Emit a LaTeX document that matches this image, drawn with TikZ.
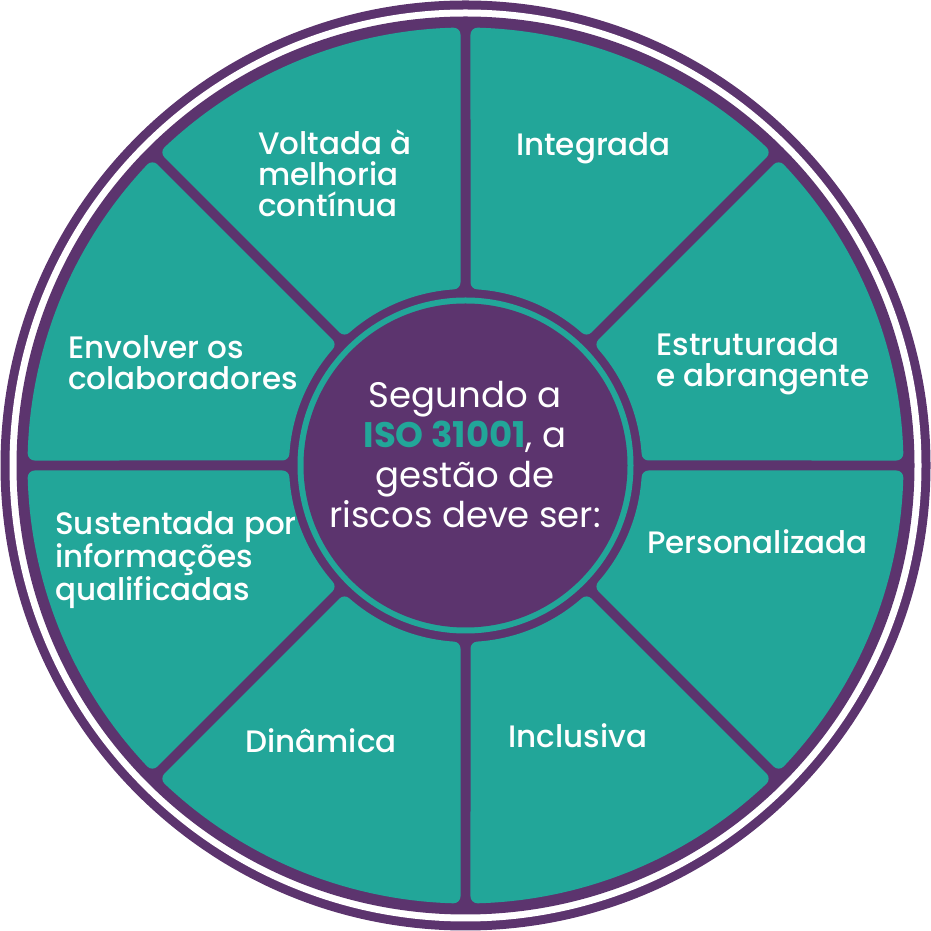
\documentclass[tikz,border=0pt]{standalone}
\usepackage{fontspec}
\setmainfont{Poppins}
\newfontfamily\medf{Poppins Medium}
\definecolor{tealc}{RGB}{34,166,153}
\definecolor{purp}{RGB}{92,52,110}

\begin{document}
\begin{tikzpicture}[x=1pt,y=1pt,
  sec/.style={fill=tealc,draw=tealc,line width=14pt,line join=round},
  lb/.style={text=white,align=left,inner sep=0pt,font=\medf\fontsize{31}{31}\selectfont}]
  \useasboundingbox (0,0) rectangle (931,931);
  \coordinate (o) at (465.5,465.5);
  % outer rings
  \fill[purp] (o) circle[radius=465pt];
  \fill[white] (o) circle[radius=456pt];
  \fill[purp] (o) circle[radius=449pt];
  % eight sectors
  \foreach \a in {0,45,...,315}{
    \pgfmathsetmacro\ia{\a+asin(12/183.5)}
    \pgfmathsetmacro\ib{\a+45-asin(12/183.5)}
    \pgfmathsetmacro\oa{\a+asin(12/431)}
    \pgfmathsetmacro\ob{\a+45-asin(12/431)}
    \path[sec,shift={(o)}] (\ia:183.5) -- (\oa:431) arc[start angle=\oa,end angle=\ob,radius=431pt]
      -- (\ib:183.5) arc[start angle=\ib,end angle=\ia,radius=183.5pt] -- cycle;
  }
  % centre disc
  \fill[tealc] (o) circle[radius=168pt];
  \fill[purp] (o) circle[radius=162pt];
  \node[text=white,align=center,font=\fontsize{35.5}{40}\selectfont] (ctr) at (465,476)
    {Segundo a\\{\bfseries\color{tealc}ISO 31001}, a\\gestão de\\riscos deve ser:};
  \node[lb,anchor=west] (vol) at (258,758) {Voltada à\\melhoria\\contínua};
  \node[lb] (int) at (593.5,783) {Integrada};
  \node[lb,anchor=west] (est) at (656,567) {Estruturada\\e abrangente};
  \node[lb] (per) at (757.5,389) {Personalizada};
  \node[lb] (inc) at (578,195) {Inclusiva};
  \node[lb] (din) at (321,190) {Dinâmica};
  \node[lb,anchor=west] (sus) at (55,371) {Sustentada por\\informações\\qualificadas};
  \node[lb,anchor=west] (env) at (68,568) {Envolver os\\colaboradores};
\end{tikzpicture}
\end{document}
